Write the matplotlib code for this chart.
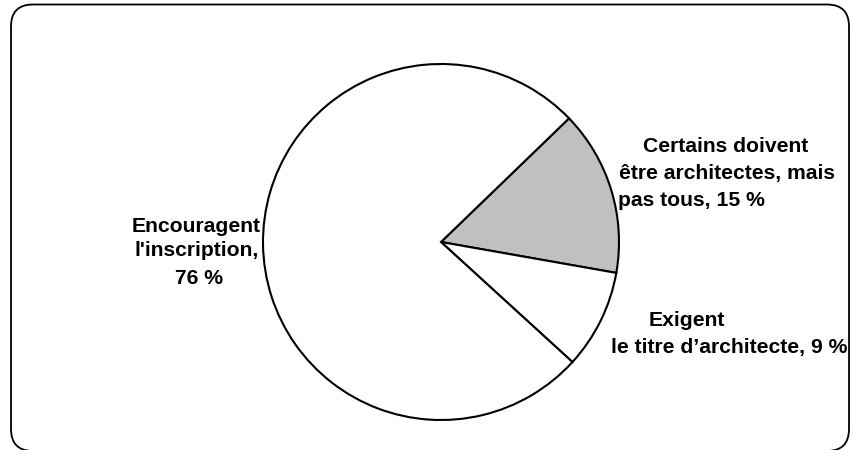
import matplotlib
matplotlib.use("Agg")
import matplotlib.pyplot as plt
from matplotlib.patches import FancyBboxPatch

# parts du camembert (sens horaire à partir de la tranche grise)
parts = [15, 9, 76]
couleurs = ["#c0c0c0", "#ffffff", "#ffffff"]
etiquettes = [
    ["Certains doivent", "être architectes, mais", "pas tous, 15 %"],
    ["Exigent", "le titre d\u2019architecte, 9 %"],
    ["Encouragent", "l'inscription,", "76 %"],
]

W, H = 851, 450
fig = plt.figure(figsize=(W / 100, H / 100), dpi=100)
ax = fig.add_axes([0, 0, 1, 1])
ax.set_xlim(0, W)
ax.set_ylim(0, H)
ax.set_aspect("equal")
ax.axis("off")

# cadre arrondi
cadre = FancyBboxPatch((11, -1), 838, H - 4.5 + 1, boxstyle="round,pad=0,rounding_size=22",
                       facecolor="white", edgecolor="black", linewidth=1.3)
ax.add_patch(cadre)

ax.pie(parts, colors=couleurs, startangle=44, counterclock=False,
       center=(441, H - 242), radius=178, frame=True,
       wedgeprops=dict(edgecolor="black", linewidth=1.5))
ax.set_xlim(0, W)
ax.set_ylim(0, H)
ax.axis("off")

style = dict(fontsize=15.2, fontweight="bold", family="Liberation Sans", color="black", va="center")

# Certains doivent ...
ax.text(726, H - 146, etiquettes[0][0], ha="center", **style)
ax.text(727, H - 173, etiquettes[0][1], ha="center", **style)
ax.text(618, H - 200, etiquettes[0][2], ha="left", **style)

# Exigent ...
ax.text(687, H - 321, etiquettes[1][0], ha="center", **style)
ax.text(729, H - 348, etiquettes[1][1], ha="center", **style)

# Encouragent ...
ax.text(196, H - 226, etiquettes[2][0], ha="center", **style)
ax.text(197, H - 251, etiquettes[2][1], ha="center", **style)
ax.text(199, H - 279, etiquettes[2][2], ha="center", **style)

fig.savefig("out.png", dpi=100)
